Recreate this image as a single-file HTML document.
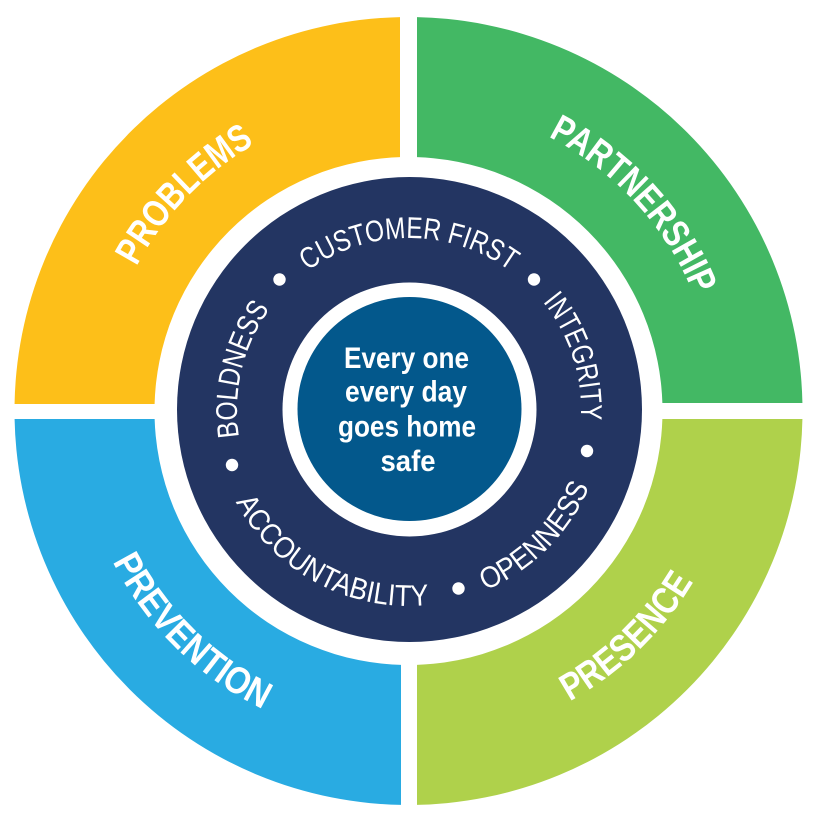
<!DOCTYPE html>
<html>
<head>
<meta charset="utf-8">
<style>
  html, body { margin: 0; padding: 0; background: #ffffff; }
  svg { display: block; }
  .ring { font-family: "Liberation Sans", sans-serif; font-weight: bold; font-size: 38px; fill: #ffffff; }
  .val { font-family: "Liberation Sans", sans-serif; font-weight: normal; font-size: 30px; fill: #ffffff; }
  .ctr { font-family: "Liberation Sans", sans-serif; font-weight: bold; font-size: 30px; fill: #ffffff; }
</style>
</head>
<body>
<svg width="829" height="835" viewBox="0 0 829 835" xmlns="http://www.w3.org/2000/svg">
  <defs>
    <clipPath id="cY"><rect x="0" y="0" width="400" height="404"/></clipPath>
    <clipPath id="cG"><rect x="417" y="0" width="412" height="403"/></clipPath>
    <clipPath id="cB"><rect x="0" y="419" width="401" height="416"/></clipPath>
    <clipPath id="cL"><rect x="417" y="419" width="412" height="416"/></clipPath>

    <!-- outer ring label paths -->
    <path id="pProblems" d="M136.6,266.4 A308,308 0 0,1 254.5,144.3"/>
    <path id="pPartner" d="M548.3,136.6 A308,308 0 0,1 694.1,295.6"/>
    <path id="pPrevention" d="M112.7,561.7 A332,332 0 0,0 262.6,709.1"/>
    <path id="pPresence" d="M569.7,701.3 A332,332 0 0,0 693.2,582.0"/>

    <!-- navy ring value paths -->
    <path id="pCustomer" d="M307.9,270.9 A172,172 0 0,1 510.1,270.9"/>
    <path id="pIntegrity" d="M542.7,301.8 A172,172 0 0,1 580.6,422.0"/>
    <path id="pOpenness" d="M485.6,590.4 A196,196 0 0,0 589.4,486.6"/>
    <path id="pAccount" d="M235.9,502.0 A196,196 0 0,0 429.5,604.9"/>
    <path id="pBoldness" d="M239.1,436.9 A172,172 0 0,1 269.9,308.9"/>
  </defs>

  <!-- outer quadrants -->
  <g fill-rule="evenodd">
    <path clip-path="url(#cY)" fill="#FDBF19" d="M14.5,411 a394,394 0 1,0 788,0 a394,394 0 1,0 -788,0 Z M154.5,411 a254,254 0 1,0 508,0 a254,254 0 1,0 -508,0 Z"/>
    <path clip-path="url(#cG)" fill="#43B864" d="M14.5,411 a394,394 0 1,0 788,0 a394,394 0 1,0 -788,0 Z M154.5,411 a254,254 0 1,0 508,0 a254,254 0 1,0 -508,0 Z"/>
    <path clip-path="url(#cB)" fill="#29ABE2" d="M14.5,411 a394,394 0 1,0 788,0 a394,394 0 1,0 -788,0 Z M154.5,411 a254,254 0 1,0 508,0 a254,254 0 1,0 -508,0 Z"/>
    <path clip-path="url(#cL)" fill="#AFD14B" d="M14.5,411 a394,394 0 1,0 788,0 a394,394 0 1,0 -788,0 Z M154.5,411 a254,254 0 1,0 508,0 a254,254 0 1,0 -508,0 Z"/>
  </g>

  <!-- navy ring -->
  <circle cx="409.5" cy="409.5" r="232.5" fill="#233562"/>
  <!-- white ring + center -->
  <circle cx="409.5" cy="409.5" r="127" fill="#ffffff"/>
  <circle cx="409.5" cy="409" r="112" fill="#03588C"/>

  <!-- outer labels -->
  <text class="ring"><textPath href="#pProblems" textLength="172" lengthAdjust="spacingAndGlyphs">PROBLEMS</textPath></text>
  <text class="ring"><textPath href="#pPartner" textLength="220" lengthAdjust="spacingAndGlyphs">PARTNERSHIP</textPath></text>
  <text class="ring"><textPath href="#pPrevention" textLength="214" lengthAdjust="spacingAndGlyphs">PREVENTION</textPath></text>
  <text class="ring"><textPath href="#pPresence" textLength="174" lengthAdjust="spacingAndGlyphs">PRESENCE</textPath></text>

  <!-- values -->
  <text class="val"><textPath href="#pCustomer" textLength="216" lengthAdjust="spacingAndGlyphs">CUSTOMER FIRST</textPath></text>
  <text class="val"><textPath href="#pIntegrity" textLength="127" lengthAdjust="spacingAndGlyphs">INTEGRITY</textPath></text>
  <text class="val"><textPath href="#pOpenness" textLength="150" lengthAdjust="spacingAndGlyphs">OPENNESS</textPath></text>
  <text class="val"><textPath href="#pAccount" textLength="232" lengthAdjust="spacingAndGlyphs">ACCOUNTABILITY</textPath></text>
  <text class="val"><textPath href="#pBoldness" textLength="135" lengthAdjust="spacingAndGlyphs">BOLDNESS</textPath></text>

  <!-- dots -->
  <g fill="#ffffff">
    <circle cx="279.5" cy="279.5" r="6.2"/>
    <circle cx="534" cy="279.5" r="6.2"/>
    <circle cx="587" cy="451" r="6.2"/>
    <circle cx="458.5" cy="588.5" r="6.2"/>
    <circle cx="232" cy="465" r="6.2"/>
  </g>

  <!-- center text -->
  <text class="ctr" x="344" y="368" textLength="125" lengthAdjust="spacingAndGlyphs">Every one</text>
  <text class="ctr" x="345" y="401.5" textLength="122" lengthAdjust="spacingAndGlyphs">every day</text>
  <text class="ctr" x="338" y="436.5" textLength="138" lengthAdjust="spacingAndGlyphs">goes home</text>
  <text class="ctr" x="380.5" y="471" textLength="55" lengthAdjust="spacingAndGlyphs">safe</text>
</svg>
</body>
</html>
